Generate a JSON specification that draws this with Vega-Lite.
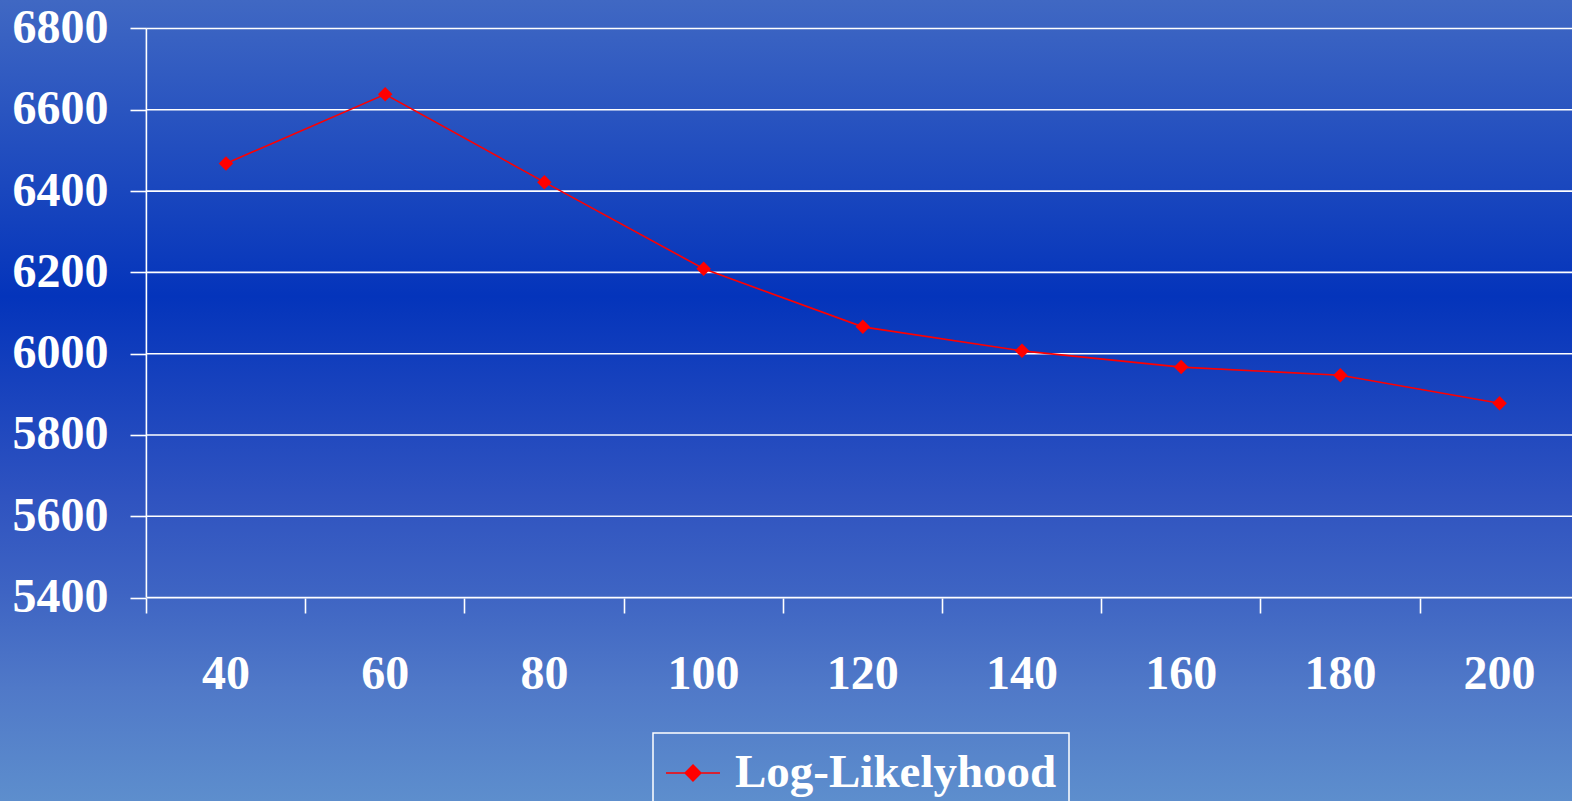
{
  "$schema": "https://vega.github.io/schema/vega-lite/v6.json",
  "width": 1572,
  "height": 801,
  "autosize": {"type": "none"},
  "padding": 0,
  "background": "#2a50bf",
  "config": {
    "font": "Liberation Serif",
    "view": {
      "stroke": null,
      "fill": {
        "gradient": "linear",
        "x1": 0, "y1": 0, "x2": 0, "y2": 1,
        "stops": [
          {"offset": 0, "color": "#4068c3"},
          {"offset": 0.37, "color": "#0434bb"},
          {"offset": 0.62, "color": "#2f53c0"},
          {"offset": 0.74, "color": "#3e64c3"},
          {"offset": 0.86, "color": "#5079c8"},
          {"offset": 1, "color": "#5d8ecd"}
        ]
      }
    }
  },
  "layer": [
    {
      "data": {"values": [{"tick": 5400}, {"tick": 5600}, {"tick": 5800}, {"tick": 6000}, {"tick": 6200}, {"tick": 6400}, {"tick": 6600}, {"tick": 6800}]},
      "mark": {"type": "rule", "color": "#ffffff", "strokeWidth": 1.6},
      "encoding": {
        "y": {
          "field": "tick", "type": "quantitative",
          "scale": {"type": "linear", "domain": [4899.6, 6870.1], "nice": false, "zero": false},
          "axis": {
            "orient": "left", "offset": -146, "title": null, "format": "d",
            "values": [5400, 5600, 5800, 6000, 6200, 6400, 6600, 6800],
            "domain": false, "grid": false,
            "ticks": true, "tickSize": 16, "tickColor": "#ffffff", "tickWidth": 1.6,
            "labelFont": "Liberation Serif", "labelFontWeight": "bold", "labelFontSize": 48,
            "labelColor": "#ffffff", "labelPadding": 22
          }
        },
        "x": {
          "datum": 40, "type": "ordinal", "bandPosition": 0,
          "scale": {"type": "band", "domain": [40, 60, 80, 100, 120, 140, 160, 180, 200], "range": [146.4, 1579.2], "paddingInner": 0, "paddingOuter": 0},
          "axis": {
            "orient": "bottom", "offset": -203, "title": null,
            "bandPosition": 0,
            "domain": false, "grid": false,
            "ticks": true, "tickSize": 15, "tickColor": "#ffffff", "tickWidth": 1.6,
            "labelFont": "Liberation Serif", "labelFontWeight": "bold", "labelFontSize": 48,
            "labelColor": "#ffffff", "labelPadding": 37, "labelAngle": 0
          }
        },
        "x2": {"datum": 200, "bandPosition": 1}
      }
    },
    {
      "data": {"values": [{"from": 5400, "to": 6800}]},
      "mark": {"type": "rule", "color": "#ffffff", "strokeWidth": 1.6},
      "encoding": {
        "x": {"datum": 40, "type": "ordinal", "bandPosition": 0,
          "scale": {"type": "band", "domain": [40, 60, 80, 100, 120, 140, 160, 180, 200], "range": [146.4, 1579.2], "paddingInner": 0, "paddingOuter": 0}},
        "y": {"field": "from", "type": "quantitative",
          "scale": {"type": "linear", "domain": [4899.6, 6870.1], "nice": false, "zero": false}},
        "y2": {"field": "to"}
      }
    },
    {
      "data": {"values": [
        {"n": 40, "v": 6468},
        {"n": 60, "v": 6638},
        {"n": 80, "v": 6422},
        {"n": 100, "v": 6209},
        {"n": 120, "v": 6066},
        {"n": 140, "v": 6007},
        {"n": 160, "v": 5967},
        {"n": 180, "v": 5947},
        {"n": 200, "v": 5878}
      ]},
      "mark": {
        "type": "line", "strokeWidth": 1.6,
        "point": {"shape": "diamond", "size": 210, "filled": true, "color": "#ff0000", "opacity": 1}
      },
      "encoding": {
        "x": {"field": "n", "type": "ordinal",
          "scale": {"type": "band", "domain": [40, 60, 80, 100, 120, 140, 160, 180, 200], "range": [146.4, 1579.2], "paddingInner": 0, "paddingOuter": 0}},
        "y": {"field": "v", "type": "quantitative",
          "scale": {"type": "linear", "domain": [4899.6, 6870.1], "nice": false, "zero": false}},
        "color": {
          "datum": "Log-Likelyhood", "type": "nominal",
          "scale": {"range": ["#ff0000"]},
          "legend": {
            "title": null, "orient": "none", "legendX": 653, "legendY": 733,
            "padding": 12, "strokeColor": "#ffffff",
            "symbolType": "M-1,0H1M0,-0.29L0.29,0L0,0.29L-0.29,0Z",
            "symbolSize": 2916, "symbolStrokeWidth": 1.6,
            "symbolFillColor": "#ff0000", "symbolStrokeColor": "#ff0000",
            "labelFont": "Liberation Serif", "labelFontWeight": "bold", "labelFontSize": 47,
            "labelColor": "#ffffff", "labelOffset": 14, "labelLimit": 600, "labelBaseline": "middle",
            "encode": {
              "legend": {"update": {"strokeWidth": {"value": 1.5}}},
              "symbols": {"update": {"fill": {"value": "#ff0000"}, "stroke": {"value": "#ff0000"}, "strokeWidth": {"value": 1.6}, "opacity": {"value": 1}}}
            }
          }
        }
      }
    }
  ]
}
